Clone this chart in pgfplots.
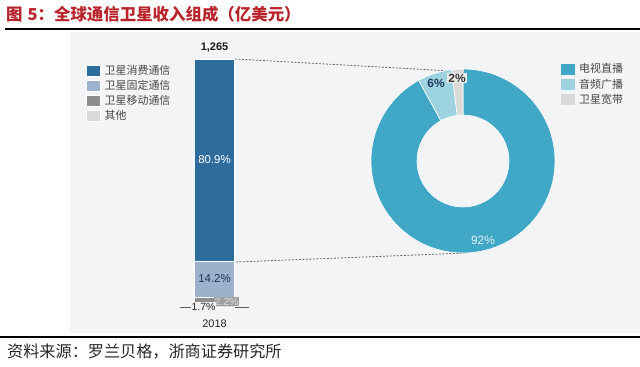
\documentclass[border=0pt]{standalone}
\usepackage{fontspec}
\setmainfont{Liberation Sans}
\newfontfamily\cjk{Noto Sans CJK SC}
\usepackage{pgfplots}
\pgfplotsset{compat=1.18}
\usepackage{pgfplotstable}

\definecolor{cCons}{RGB}{46,108,155}
\definecolor{cFix}{RGB}{155,177,204}
\definecolor{cMob}{RGB}{140,140,140}
\definecolor{cOth}{RGB}{217,217,217}
\definecolor{cTV}{RGB}{64,167,199}
\definecolor{cRad}{RGB}{157,211,224}
\definecolor{cBB}{RGB}{218,218,218}
\definecolor{cPanel}{RGB}{243,244,246}
\definecolor{cTitle}{RGB}{184,36,43}
\definecolor{cNavy}{RGB}{30,55,90}

\pgfplotstableread{
year other mobile fixed consumer
0 1.7 2.2 14.2 80.9
}\bardata

\pgfplotstableread{
seg value
tv 92
radio 6
broadband 2
}\donutdata

\pgfplotsset{
  sq/.style={legend image code/.code={\fill[##1] (0bp,-5.5bp) rectangle (14bp,5.5bp); \path (17bp,0bp);}},
}

\begin{document}
\begin{tikzpicture}[x=1bp,y=1bp]
\useasboundingbox (0,0) rectangle (640,366);
% panel and rules
\fill[cPanel] (70,33) rectangle (640,334);
\draw[black, line width=1.5bp] (5,337) -- (640,337);
\draw[black, line width=2bp] (0,29) -- (640,29);
\node[anchor=west, inner sep=0pt, text=cTitle, font=\cjk\bfseries\fontsize{16.5}{18}\selectfont] at (6,352) {图\hspace{5bp}5：全球通信卫星收入组成（亿美元）};
\node[anchor=west, inner sep=0pt, text=black!85, font=\cjk\fontsize{16.2}{18}\selectfont] at (7,14) {资料来源：罗兰贝格，浙商证券研究所};

% connector lines
\draw[black!60, line width=0.8bp, dash pattern=on 2bp off 1.5bp] (235,307) -- (452,295);
\draw[black!60, line width=0.8bp, dash pattern=on 2bp off 1.5bp] (236,104) -- (467,113);

% stacked bar
\begin{axis}[
  at={(180bp,59bp)}, anchor=south west, scale only axis,
  width=69bp, height=248bp,
  xmin=-0.5, xmax=0.5, ymin=0, ymax=99,
  enlargelimits=false,
  ybar stacked, bar width=40bp,
  axis x line=bottom, axis y line=none,
  x axis line style={-, draw=black!65, line width=0.8bp},
  xtick={0}, xticklabels={2018}, major tick length=0pt,
  xticklabel style={font=\fontsize{11}{13}\selectfont, text=black!85, yshift=-9bp},
  ytick=\empty,
  clip=false,
  reverse legend,
  legend cell align=left,
  legend style={at={(-1.3623,0.9798)}, anchor=north west, draw=none, fill=none,
    inner sep=0pt, row sep=2.4bp,
    font=\cjk\fontsize{11}{12}\selectfont, text=black!72,
    nodes={inner sep=1bp}},
]
\addplot[sq, fill=cOth, draw=white, line width=0.5bp] table[x=year, y=other]{\bardata};
\addlegendentry{其他}
\addplot[sq, fill=cMob, draw=white, line width=0.5bp] table[x=year, y=mobile]{\bardata};
\addlegendentry{卫星移动通信}
\addplot[sq, fill=cFix, draw=white, line width=0.5bp] table[x=year, y=fixed]{\bardata};
\addlegendentry{卫星固定通信}
\addplot[sq, fill=cCons, draw=white, line width=0.5bp] table[x=year, y=consumer]{\bardata};
\addlegendentry{卫星消费通信}
\node[text=black!90, font=\bfseries\fontsize{11}{13}\selectfont, anchor=south] at (axis cs:0,100.5) {1,265};
\end{axis}

% segment labels
\node[text=white, font=\fontsize{11.5}{13}\selectfont] at (214.5,206) {80.9\%};
\node[text=cNavy, font=\fontsize{11.5}{13}\selectfont] at (214.5,87) {14.2\%};
\node[fill=black!37, text=black!15, inner sep=1bp, font=\fontsize{10.5}{12}\selectfont] at (226.5,64.5) {2.2\%};
\node[fill=black!5, text=black!85, inner sep=1bp, font=\fontsize{10.5}{12}\selectfont] at (203.5,59) {1.7\%};

% donut
\pgfplotstablegetelem{0}{value}\of\donutdata
\pgfmathsetmacro\aA{90-3.6*\pgfplotsretval}
\pgfplotstablegetelem{1}{value}\of\donutdata
\pgfmathsetmacro\aB{\aA-3.6*\pgfplotsretval}
\pgfplotstablegetelem{2}{value}\of\donutdata
\pgfmathsetmacro\aC{\aB-3.6*\pgfplotsretval}
\begin{axis}[
  at={(463bp,205bp)}, anchor=center, scale only axis,
  width=184bp, height=184bp,
  xmin=-1, xmax=1, ymin=-1, ymax=1,
  hide axis, clip=false,
  legend cell align=left,
  legend style={at={(1.0326,1.035)}, anchor=north west, draw=none, fill=none,
    inner sep=0pt, row sep=2.4bp,
    font=\cjk\fontsize{11}{12}\selectfont, text=black!72,
    nodes={inner sep=1bp}},
]
\coordinate (O) at (axis cs:0,0);
\fill[cTV, draw=white, line width=0.6bp] ([shift={(90:92bp)}]O) arc[start angle=90, end angle=\aA, radius=92bp]
  -- ([shift={(\aA:46bp)}]O) arc[start angle=\aA, end angle=90, radius=46bp] -- cycle;
\fill[cRad, draw=white, line width=0.6bp] ([shift={(\aA:92bp)}]O) arc[start angle=\aA, end angle=\aB, radius=92bp]
  -- ([shift={(\aB:46bp)}]O) arc[start angle=\aB, end angle=\aA, radius=46bp] -- cycle;
\fill[cBB, draw=white, line width=0.6bp] ([shift={(\aB:92bp)}]O) arc[start angle=\aB, end angle=\aC, radius=92bp]
  -- ([shift={(\aC:46bp)}]O) arc[start angle=\aC, end angle=\aB, radius=46bp] -- cycle;
\addlegendimage{sq, fill=cTV, draw=none}
\addlegendentry{电视直播}
\addlegendimage{sq, fill=cRad, draw=none}
\addlegendentry{音频广播}
\addlegendimage{sq, fill=cBB, draw=none}
\addlegendentry{卫星宽带}
\end{axis}
\node[text=white!85!cTV, font=\fontsize{12}{14}\selectfont] at (483,126) {92\%};
\node[text=cNavy, font=\bfseries\fontsize{12}{14}\selectfont] at (436,283) {6\%};
\node[fill=black!8, text=black!80, inner sep=1bp, font=\bfseries\fontsize{12}{14}\selectfont] at (457,288) {2\%};
\end{tikzpicture}
\end{document}
